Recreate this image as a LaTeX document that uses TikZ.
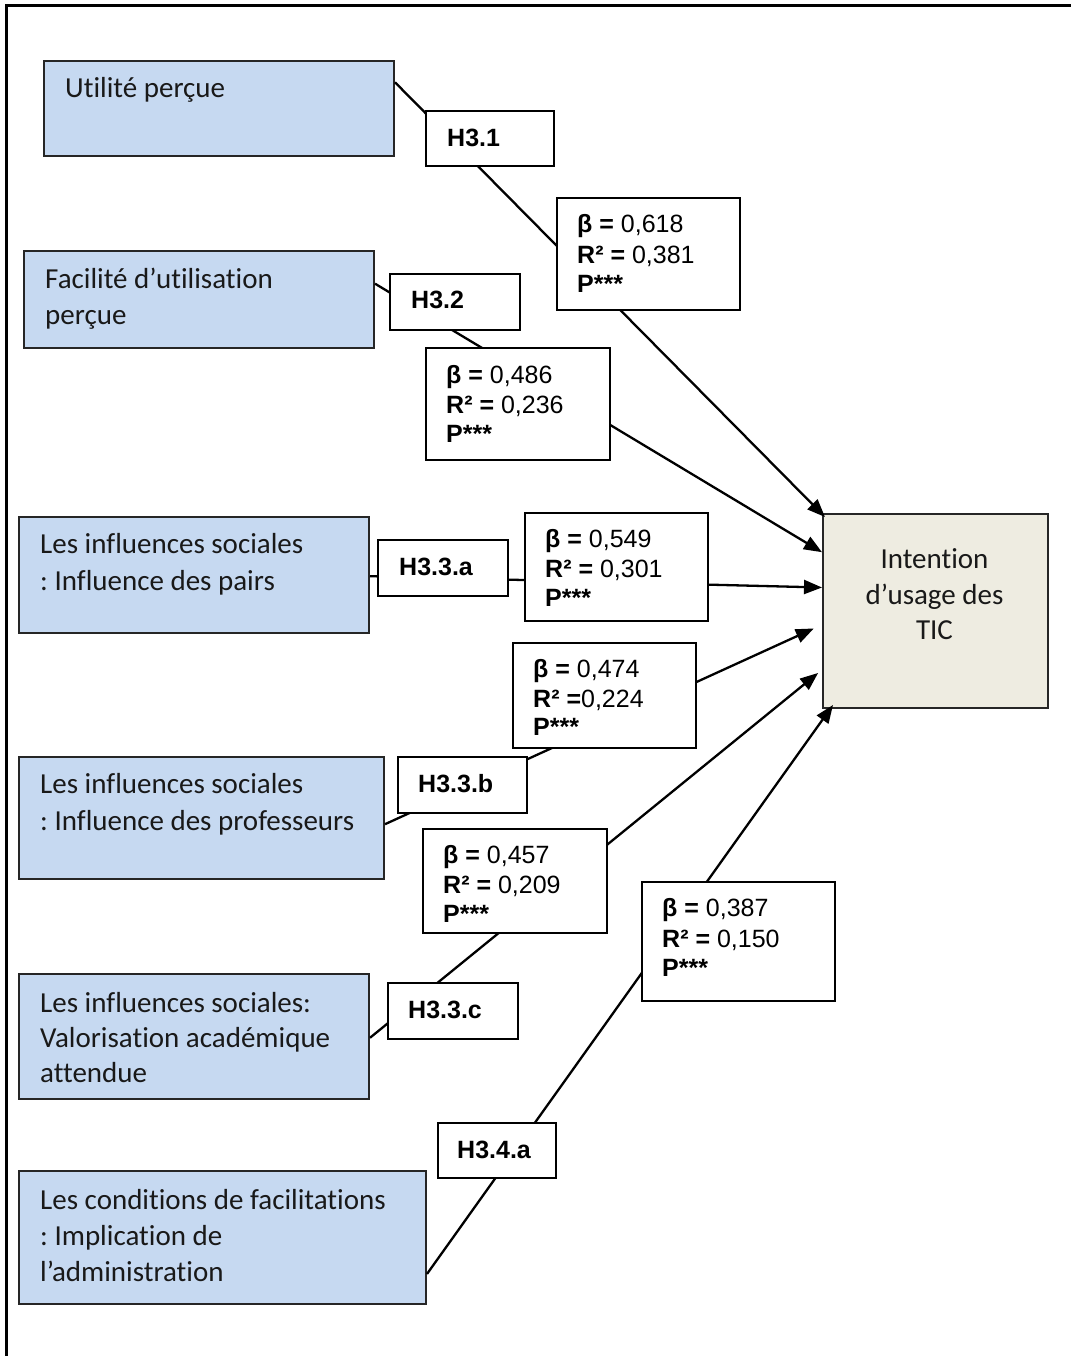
\documentclass[tikz,border=0pt]{standalone}
\usepackage{fontspec}
\setmainfont{Carlito}[Ligatures=NoCommon]
\newfontfamily\arialf{Liberation Sans}
\usetikzlibrary{arrows.meta,calc}
\definecolor{bluefill}{HTML}{C6D9F1}
\definecolor{beigefill}{HTML}{EEECE1}
\frenchspacing
\begin{document}
\frenchspacing
\begin{tikzpicture}[x=1pt,y=-1pt,
  bbox/.style={draw=black!85, line width=2pt, fill=bluefill, anchor=north west, inner sep=0pt},
  tbox/.style={draw=black!85, line width=2pt, fill=beigefill, anchor=north west, inner sep=0pt},
  lbox/.style={draw=black, line width=2pt, fill=white, anchor=north west, inner sep=0pt},
  ctext/.style={font=\fontsize{29}{36}\selectfont, anchor=base west, inner sep=0pt, text=black!90},
  ctextc/.style={font=\fontsize{29}{36}\selectfont, anchor=base, inner sep=0pt, text=black!90},
  atext/.style={font=\arialf\fontsize{25}{30}\selectfont, anchor=base west, inner sep=0pt},
  conn/.style={line width=2.3pt, -{Triangle[length=18pt,width=14pt]}}]
\useasboundingbox (0,0) rectangle (1071,1356);
\draw[line width=3pt] (6,1356) -- (6,6) -- (1071,6);

% source boxes
\node[bbox, minimum width=350, minimum height=95] (b1) at (43,60) {};
\node[bbox, minimum width=350, minimum height=97] (b2) at (23,250) {};
\node[bbox, minimum width=350, minimum height=116] (b3) at (18,516) {};
\node[bbox, minimum width=365, minimum height=122] (b4) at (18,756) {};
\node[bbox, minimum width=350, minimum height=125] (b5) at (18,973) {};
\node[bbox, minimum width=407, minimum height=133] (b6) at (18,1170) {};
% target
\node[tbox, minimum width=225, minimum height=194] (t) at (822,513) {};

% texts
\node[ctext] (b1l1) at (65,98) {Utilité perçue};
\node[ctext] (b2l1) at (45,288) {Facilité d’utilisation};
\node[ctext] (b2l2) at (45,324) {perçue};
\node[ctext] (b3l1) at (40,553) {Les influences sociales};
\node[ctext] (b3l2) at (40,590) {: Influence des pairs};
\node[ctext] (b4l1) at (40,793) {Les influences sociales};
\node[ctext] (b4l2) at (40,830) {: Influence des professeurs};
\node[ctext] (b5l1) at (40,1012) {Les influences sociales:};
\node[ctext] (b5l2) at (40,1047) {Valorisation académique};
\node[ctext] (b5l3) at (40,1082) {attendue};
\node[ctext] (b6l1) at (40,1209) {Les conditions de facilitations};
\node[ctext] (b6l2) at (40,1245) {: Implication de};
\node[ctext] (b6l3) at (40,1281) {l’administration};
\node[ctextc] (tl1) at (934.5,568) {Intention};
\node[ctextc] (tl2) at (934.5,604) {d’usage des};
\node[ctextc] (tl3) at (934.5,639) {TIC};

% connectors
\draw[conn] ($(b1.north east)!0.23!(b1.south east)$) -- ($(t.north west)+(3,4)$);
\draw[conn] ($(b2.north east)!0.34!(b2.south east)$) -- ($(t.north west)!0.20!(t.south west)$);
\draw[conn] ($(b3.north east)!0.51!(b3.south east)$) -- ($(t.north west)!0.38!(t.south west)$);
\draw[conn, shorten >=9pt] ($(b4.north east)!0.55!(b4.south east)$) -- ($(t.north west)!0.57!(t.south west)$);
\draw[conn, shorten >=5pt] ($(b5.north east)!0.51!(b5.south east)$) -- ($(t.north west)!0.80!(t.south west)$);
\draw[conn] ($(b6.north east)!0.77!(b6.south east)$) -- ($(t.south west)+(11,-4)$);

% hypothesis labels
\node[lbox, minimum width=128, minimum height=55] (h1) at (425,110) {};
\node[lbox, minimum width=130, minimum height=56] (h2) at (389,273) {};
\node[lbox, minimum width=130, minimum height=56] (h3a) at (377,539) {};
\node[lbox, minimum width=129, minimum height=56] (h3b) at (397,756) {};
\node[lbox, minimum width=130, minimum height=56] (h3c) at (387,982) {};
\node[lbox, minimum width=118, minimum height=55] (h4a) at (437,1122) {};
\node[atext] (h1t) at (447,147) {\bfseries H3.1};
\node[atext] (h2t) at (411,308) {\bfseries H3.2};
\node[atext] (h3at) at (399,575) {\bfseries H3.3.a};
\node[atext] (h3bt) at (418,792) {\bfseries H3.3.b};
\node[atext] (h3ct) at (408,1018) {\bfseries H3.3.c};
\node[atext] (h4at) at (457,1158) {\bfseries H3.4.a};

% statistics labels
\node[lbox, minimum width=183, minimum height=112] (s1) at (556,197) {};
\node[lbox, minimum width=184, minimum height=112] (s2) at (425,347) {};
\node[lbox, minimum width=183, minimum height=108] (s3) at (524,512) {};
\node[lbox, minimum width=183, minimum height=105] (s4) at (512,642) {};
\node[lbox, minimum width=184, minimum height=104] (s5) at (422,828) {};
\node[lbox, minimum width=193, minimum height=119] (s6) at (641,881) {};

\node[atext] (s1a) at (577,233) {\textbf{β =} 0,618};
\node[atext] (s1b) at (577,263) {\textbf{R² =} 0,381};
\node[atext] (s1c) at (577,292) {\textbf{P***}};
\node[atext] (s2a) at (446,383) {\textbf{β =} 0,486};
\node[atext] (s2b) at (446,413) {\textbf{R² =} 0,236};
\node[atext] (s2c) at (446,442) {\textbf{P***}};
\node[atext] (s3a) at (545,547) {\textbf{β =} 0,549};
\node[atext] (s3b) at (545,577) {\textbf{R² =} 0,301};
\node[atext] (s3c) at (545,606) {\textbf{P***}};
\node[atext] (s4a) at (533,677) {\textbf{β =} 0,474};
\node[atext] (s4b) at (533,707) {\textbf{R² =}0,224};
\node[atext] (s4c) at (533,735) {\textbf{P***}};
\node[atext] (s5a) at (443,863) {\textbf{β =} 0,457};
\node[atext] (s5b) at (443,893) {\textbf{R² =} 0,209};
\node[atext] (s5c) at (443,922) {\textbf{P***}};
\node[atext] (s6a) at (662,916) {\textbf{β =} 0,387};
\node[atext] (s6b) at (662,947) {\textbf{R² =} 0,150};
\node[atext] (s6c) at (662,976) {\textbf{P***}};
\end{tikzpicture}
\end{document}
